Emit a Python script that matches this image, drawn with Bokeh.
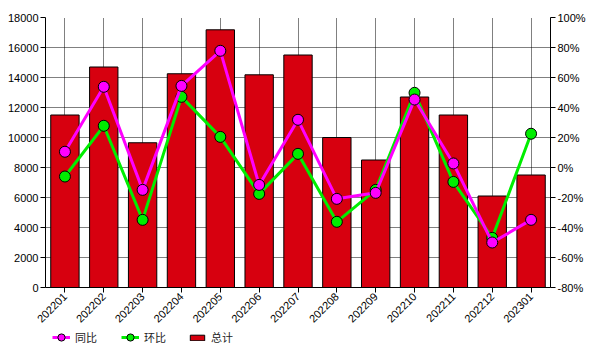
from math import pi
from bokeh.plotting import figure
from bokeh.layouts import column
from bokeh.models import (ColumnDataSource, FactorRange, Range1d, LinearAxis,
                          Legend, LegendItem, SingleIntervalTicker, PrintfTickFormatter)
from bokeh.embed import file_html
from bokeh.resources import INLINE

months = ["202201", "202202", "202203", "202204", "202205", "202206", "202207",
          "202208", "202209", "202210", "202211", "202212", "202301"]
total = [11500, 14700, 9650, 14250, 17180, 14180, 15500, 10000, 8500, 12700, 11500, 6100, 7500]
yoy = [10.5, 53.8, -14.9, 54.4, 77.8, -11.6, 31.8, -20.9, -16.9, 45.3, 2.7, -50.0, -34.9]
mom = [-6.0, 27.8, -34.9, 47.1, 20.4, -17.6, 9.1, -36.2, -14.9, 49.8, -9.6, -46.9, 22.5]
labels = ["同比", "环比", "总计"]

RED, GREEN, MAGENTA = "#D7000F", "#00EE00", "#FF00FF"
FONT = "Liberation Sans"
CJK = "Noto Sans CJK SC"

src = ColumnDataSource(dict(m=months, total=total, yoy=yoy, mom=mom))

p = figure(width=603, height=329, x_range=FactorRange(*months), y_range=Range1d(0, 18000),
           output_backend="svg", toolbar_location=None,
           min_border_left=45, min_border_right=53, min_border_top=17, min_border_bottom=42)
p.outline_line_color = None
p.extra_y_ranges = {"pct": Range1d(-80, 100)}

p.vbar(x="m", top="total", width=0.73, source=src, fill_color=RED,
       line_color="black", line_width=1)
p.line(x="m", y="mom", source=src, y_range_name="pct", line_color=GREEN, line_width=3)
p.scatter(x="m", y="mom", source=src, y_range_name="pct", size=11,
          fill_color=GREEN, line_color="black", line_width=1)
p.line(x="m", y="yoy", source=src, y_range_name="pct", line_color=MAGENTA, line_width=3)
p.scatter(x="m", y="yoy", source=src, y_range_name="pct", size=11,
          fill_color=MAGENTA, line_color="black", line_width=1)

def style_axis(ax):
    ax.axis_line_color = "black"
    ax.axis_line_width = 1
    ax.major_tick_line_color = "black"
    ax.major_tick_out = 5
    ax.major_tick_in = 0
    ax.minor_tick_line_color = None
    ax.major_label_text_font = FONT
    ax.major_label_text_font_size = "11px"
    ax.major_label_text_color = "black"
    ax.major_label_standoff = 2

p.yaxis.ticker = SingleIntervalTicker(interval=2000)
for ax in p.yaxis:
    style_axis(ax)
for ax in p.xaxis:
    style_axis(ax)
    ax.major_label_orientation = pi / 4

rax = LinearAxis(y_range_name="pct", ticker=SingleIntervalTicker(interval=20),
                 formatter=PrintfTickFormatter(format="%d%%"))
style_axis(rax)
p.add_layout(rax, "right")

p.xgrid.grid_line_color = "black"
p.xgrid.grid_line_dash = "1 1"
p.ygrid.grid_line_color = "black"
p.ygrid.grid_line_dash = "1 1"
p.ygrid.ticker = SingleIntervalTicker(interval=2000)

# legend strip below the chart: same data, drawn out of view, only the legend shows
lf = figure(width=603, height=24, x_range=FactorRange(*months), y_range=Range1d(-1e9, -2e9),
            output_backend="svg", toolbar_location=None,
            x_axis_location=None, y_axis_location=None,
            min_border_left=0, min_border_right=0, min_border_top=0, min_border_bottom=0)
lf.grid.visible = False
lf.outline_line_color = None
l_m = lf.line(x="m", y="yoy", source=src, line_color=MAGENTA, line_width=3)
s_m = lf.scatter(x="m", y="yoy", source=src, fill_color=MAGENTA, line_color="black", line_width=1)
l_g = lf.line(x="m", y="mom", source=src, line_color=GREEN, line_width=3)
s_g = lf.scatter(x="m", y="mom", source=src, fill_color=GREEN, line_color="black", line_width=1)
b_r = lf.vbar(x="m", top="total", width=0.73, source=src, fill_color=RED,
              line_color="black", line_width=1)

common = dict(orientation="horizontal", background_fill_alpha=0, border_line_color=None,
              label_text_font=CJK, label_text_font_size="11px", label_text_color="#222222",
              glyph_width=18, padding=0, margin=0, label_standoff=5, spacing=24)
leg_lines = Legend(items=[LegendItem(label=labels[0], renderers=[l_m, s_m]),
                          LegendItem(label=labels[1], renderers=[l_g, s_g])],
                   location=(7, 7), glyph_height=18, **common)
leg_bar = Legend(items=[LegendItem(label=labels[2], renderers=[b_r])],
                 location=(143, 8), glyph_height=7, **common)
lf.add_layout(leg_lines, "center")
lf.add_layout(leg_bar, "center")

layout = column(p, lf, spacing=0)
open("out.html", "w").write(file_html(layout, INLINE))
